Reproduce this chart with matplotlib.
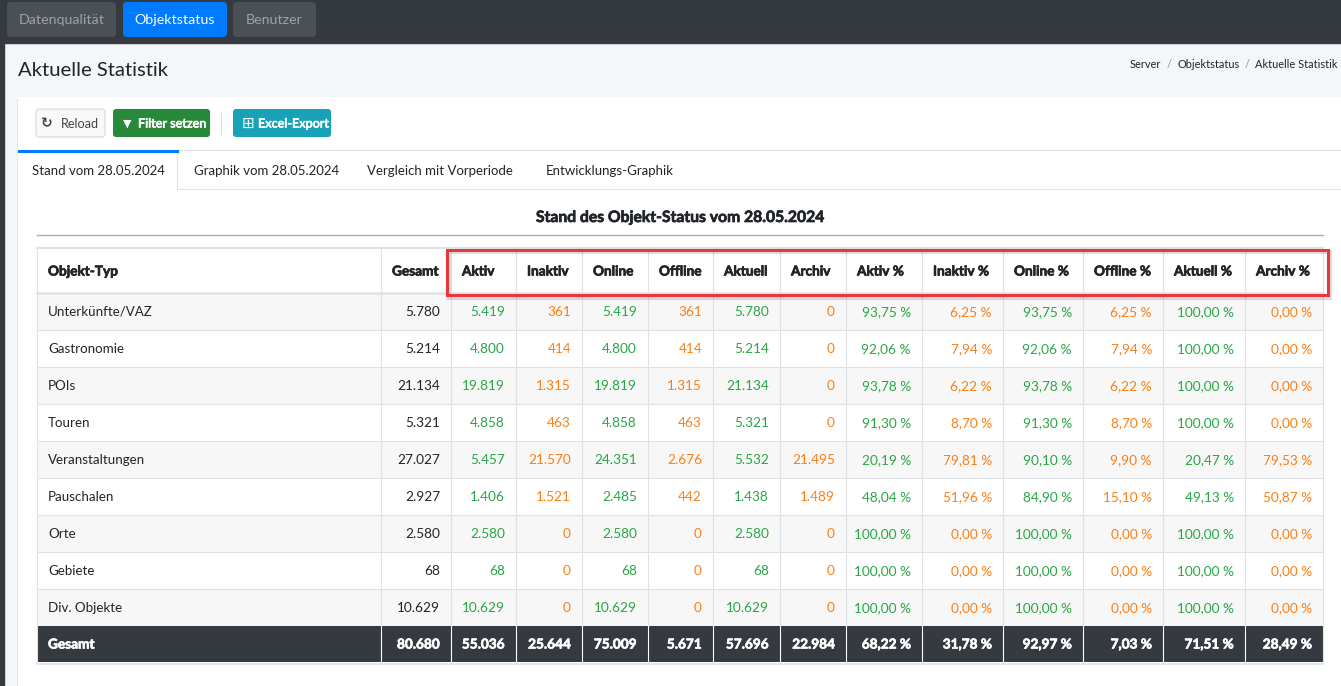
import matplotlib.pyplot as plt
import matplotlib.patheffects as pe
from matplotlib.patches import Rectangle, FancyBboxPatch

plt.rcParams['font.family'] = ['Lato', 'DejaVu Sans']

# table data
types = ['Unterkünfte/VAZ', 'Gastronomie', 'POIs', 'Touren', 'Veranstaltungen',
         'Pauschalen', 'Orte', 'Gebiete', 'Div. Objekte']
gesamt = [5780, 5214, 21134, 5321, 27027, 2927, 2580, 68, 10629]
aktiv = [5419, 4800, 19819, 4858, 5457, 1406, 2580, 68, 10629]
inaktiv = [361, 414, 1315, 463, 21570, 1521, 0, 0, 0]
online = [5419, 4800, 19819, 4858, 24351, 2485, 2580, 68, 10629]
offline = [361, 414, 1315, 463, 2676, 442, 0, 0, 0]
aktuell = [5780, 5214, 21134, 5321, 5532, 1438, 2580, 68, 10629]
archiv = [0, 0, 0, 0, 21495, 1489, 0, 0, 0]
aktiv_pct = [93.75, 92.06, 93.78, 91.30, 20.19, 48.04, 100.00, 100.00, 100.00]
inaktiv_pct = [6.25, 7.94, 6.22, 8.70, 79.81, 51.96, 0.00, 0.00, 0.00]
online_pct = [93.75, 92.06, 93.78, 91.30, 90.10, 84.90, 100.00, 100.00, 100.00]
offline_pct = [6.25, 7.94, 6.22, 8.70, 9.90, 15.10, 0.00, 0.00, 0.00]
aktuell_pct = [100.00, 100.00, 100.00, 100.00, 20.47, 49.13, 100.00, 100.00, 100.00]
archiv_pct = [0.00, 0.00, 0.00, 0.00, 79.53, 50.87, 0.00, 0.00, 0.00]
totals = [80680, 55036, 25644, 75009, 5671, 57696, 22984]
totals_pct = [68.22, 31.78, 92.97, 7.03, 71.51, 28.49]

headers = ['Objekt-Typ', 'Gesamt', 'Aktiv', 'Inaktiv', 'Online', 'Offline', 'Aktuell',
           'Archiv', 'Aktiv %', 'Inaktiv %', 'Online %', 'Offline %', 'Aktuell %', 'Archiv %']
tabs = ['Stand vom 28.05.2024', 'Graphik vom 28.05.2024', 'Vergleich mit Vorperiode',
        'Entwicklungs-Graphik']
nav = ['Datenqualität', 'Objektstatus', 'Benutzer']
crumbs = ['Server', 'Objektstatus', 'Aktuelle Statistik']

DARK = '#343a40'
GREEN = '#28a745'
ORANGE = '#fd7e14'
TEXT = '#212529'
BORDER = '#dee2e6'


def fmt_int(v):
    return f'{v:,}'.replace(',', '.')


def fmt_pct(v):
    return f'{v:.2f}'.replace('.', ',') + ' %'


def heavy(color):
    return [pe.withStroke(linewidth=0.5, foreground=color)]


fig = plt.figure(figsize=(13.41, 6.86), dpi=100)
ax = fig.add_axes([0, 0, 1, 1])
ax.set_xlim(0, 1341)
ax.set_ylim(686, 0)
ax.axis('off')
renderer = fig.canvas.get_renderer()

# page background, top bar, sidebar strip
ax.add_patch(Rectangle((0, 0), 1341, 686, color='#f4f6f9', zorder=0))
ax.add_patch(Rectangle((0, 0), 1341, 43, color=DARK, zorder=1))
ax.add_patch(Rectangle((0, 43), 4, 643, color=DARK, zorder=1))

nav_x = [(7, 116), (123, 227), (233, 316)]
for (x0, x1), label in zip(nav_x, nav):
    active = label == 'Objektstatus'
    ax.add_patch(FancyBboxPatch((x0 + 3, 5), x1 - x0 - 6, 29,
                                boxstyle='round,pad=3,rounding_size=4',
                                fc='#007bff' if active else '#4b5055', ec='none', zorder=2))
    ax.text((x0 + x1) / 2, 20, label, ha='center', va='center', fontsize=10.3,
            color='white' if active else '#9ea2a6', zorder=3)

ax.text(18, 70, 'Aktuelle Statistik', ha='left', va='center', fontsize=14.6, color=TEXT)

# breadcrumb, right-aligned so it stays inside the picture
bc_x = 1338
for i, part in enumerate(reversed(crumbs)):
    t = ax.text(bc_x, 65, part, ha='right', va='center', fontsize=7.9, color=TEXT)
    w = t.get_window_extent(renderer).width
    bc_x -= w
    if i < 2:
        ax.text(bc_x - 8, 65, '/', ha='center', va='center', fontsize=7.9, color='#8a9096')
        bc_x -= 16

# card
ax.add_patch(Rectangle((18.5, 98.5), 1330, 600, fc='none', ec='#e3e6ea', lw=1.5, zorder=1))
ax.add_patch(Rectangle((18, 97), 1330, 600, fc='white', ec='none', zorder=1))

# toolbar buttons
ax.add_patch(FancyBboxPatch((38, 111), 65, 24, boxstyle='round,pad=2,rounding_size=3',
                            fc='#f8f9fa', ec='#d5d8db', lw=0.8, zorder=2))
ax.text(47, 123.5, '\u21bb', ha='center', va='center', fontsize=10, color='#444',
        fontweight='bold', family=['DejaVu Sans'], zorder=3)
ax.text(61, 123.5, 'Reload', ha='left', va='center', fontsize=9.1, color='#444', zorder=3)
ax.add_patch(FancyBboxPatch((115, 111), 93, 24, boxstyle='round,pad=2,rounding_size=3',
                            fc='#268a3a', ec='none', zorder=2))
ax.text(127, 123.5, '\u25bc', ha='center', va='center', fontsize=8, color='white',
        family=['DejaVu Sans'], zorder=3)
ax.text(138, 123.5, 'Filter setzen', ha='left', va='center', fontsize=9.1, color='white',
        path_effects=heavy('white'), zorder=3)
ax.plot([221, 221], [113, 134], color='#dadde0', lw=0.8, zorder=2)
ax.add_patch(FancyBboxPatch((235, 111), 94, 24, boxstyle='round,pad=2,rounding_size=3',
                            fc='#17a2b8', ec='none', zorder=2))
ax.text(248, 123.5, '\u229e', ha='center', va='center', fontsize=11, color='white',
        family=['DejaVu Sans'], zorder=3)
ax.text(258, 123.5, 'Excel-Export', ha='left', va='center', fontsize=9.1, color='white',
        path_effects=heavy('white'), zorder=3)

# tabs
ax.plot([18, 1341], [149.5, 149.5], color=BORDER, lw=0.8, zorder=2)
ax.plot([177, 1341], [188.5, 188.5], color=BORDER, lw=0.8, zorder=2)
ax.plot([177.5, 177.5], [151, 188.5], color=BORDER, lw=0.8, zorder=2)
ax.plot([19, 177], [151, 151], color='#007bff', lw=2.2, zorder=3)
tab_x = [32, 194, 367, 546]
for x, label in zip(tab_x, tabs):
    ax.text(x, 171, label, ha='left', va='center', fontsize=9.5, color=TEXT, zorder=3)

# table title
ax.text(681, 218, 'Stand des Objekt-Status vom 28.05.2024', ha='center', va='center',
        fontsize=11.3, fontweight='bold', color=TEXT, path_effects=heavy(TEXT))
ax.plot([37, 1323], [234.5, 234.5], color='#a9aeb3', lw=1, zorder=2)

# table geometry
edges = [37, 381, 451, 516, 582, 648, 713, 780, 846, 922, 1003, 1083, 1163, 1245, 1323]
head_top, head_bot = 248, 293
row_h = 37
n = len(types)
rows_bot = head_bot + n * row_h
tot_bot = rows_bot + 36

columns = [gesamt, aktiv, inaktiv, online, offline, aktuell, archiv,
           aktiv_pct, inaktiv_pct, online_pct, offline_pct, aktuell_pct, archiv_pct]
col_colors = [TEXT] + [GREEN, ORANGE] * 3 + [GREEN, ORANGE] * 3

# striping
for i in range(n):
    y0 = head_bot + i * row_h
    if i % 2 == 0:
        ax.add_patch(Rectangle((edges[0], y0), edges[-1] - edges[0], row_h,
                               fc='#f7f7f7', ec='none', zorder=1.5))
# total row
ax.add_patch(Rectangle((edges[0], rows_bot), edges[-1] - edges[0], tot_bot - rows_bot,
                       fc=DARK, ec='none', zorder=1.6))

# grid lines
for x in edges:
    ax.plot([x, x], [head_top, rows_bot], color=BORDER, lw=0.8, zorder=2)
    c = 'white' if x not in (edges[0], edges[-1]) else BORDER
    ax.plot([x, x], [rows_bot, tot_bot], color=c, lw=0.8, zorder=2)
ax.plot([edges[0], edges[-1]], [head_top, head_top], color=BORDER, lw=1.5, zorder=2)
ax.plot([edges[0], edges[-1]], [head_bot, head_bot], color=BORDER, lw=1.8, zorder=2)
for i in range(1, n):
    y = head_bot + i * row_h
    ax.plot([edges[0], edges[-1]], [y, y], color=BORDER, lw=0.8, zorder=2)
ax.plot([edges[0], edges[-1]], [tot_bot + 1.5, tot_bot + 1.5], color=BORDER, lw=1.2, zorder=2)

# header text
hy = (head_top + head_bot) / 2 + 1
for j, h in enumerate(headers):
    ax.text(edges[j] + 11, hy, h, ha='left', va='center', fontsize=9.8,
            fontweight='bold', color=TEXT, path_effects=heavy(TEXT), zorder=3)

# body text
for i in range(n):
    y = head_bot + i * row_h + row_h / 2 + 0.5
    ax.text(edges[0] + 11, y, types[i], ha='left', va='center', fontsize=9.6, color=TEXT,
            zorder=3)
    for j, col in enumerate(columns):
        s = fmt_int(col[i]) if j < 7 else fmt_pct(col[i])
        ax.text(edges[j + 2] - 11, y, s, ha='right', va='center', fontsize=9.8,
                color=col_colors[j], zorder=3)

ty = (rows_bot + tot_bot) / 2 + 0.5
ax.text(edges[0] + 11, ty, 'Gesamt', ha='left', va='center', fontsize=9.8,
        fontweight='bold', color='white', path_effects=heavy('white'), zorder=3)
tot_vals = [fmt_int(v) for v in totals] + [fmt_pct(v) for v in totals_pct]
for j, s in enumerate(tot_vals):
    ax.text(edges[j + 2] - 11, ty, s, ha='right', va='center', fontsize=9.8,
            fontweight='bold', color='white', path_effects=heavy('white'), zorder=3)

# red highlight box
ax.add_patch(Rectangle((449, 252), 881, 46, fc='none', ec='#00000022', lw=3, zorder=3.5))
ax.add_patch(Rectangle((447.5, 249.5), 880.5, 45, fc='none', ec='#e8373e', lw=2.2, zorder=4))

fig.savefig('out.png', dpi=100)
